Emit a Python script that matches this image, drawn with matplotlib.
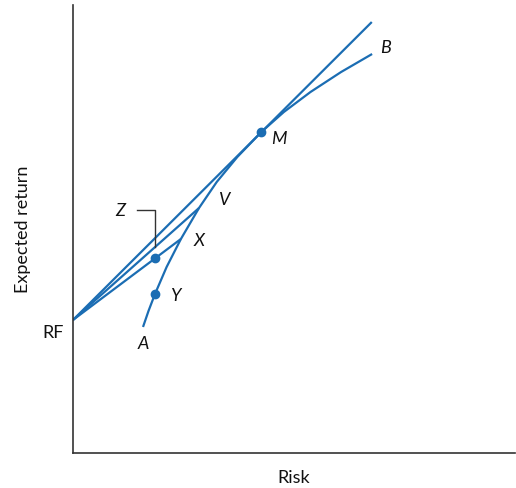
import matplotlib
matplotlib.use("Agg")
import matplotlib.pyplot as plt

plt.rcParams["font.family"] = ["Lato", "DejaVu Sans"]

BLUE = "#1b6db3"

# efficient frontier (risk, expected return)
frontier_risk = [1.584, 1.708, 1.855, 2.118, 2.441, 2.851, 3.251, 3.717,
                 4.260, 4.771, 5.373, 6.065, 6.767]
frontier_ret = [2.813, 3.170, 3.549, 4.152, 4.777, 5.469, 6.049, 6.607,
                7.165, 7.612, 8.058, 8.504, 8.906]

rf = (0.0, 2.97)
pt_x = (2.441, 4.777)
pt_v = (2.851, 5.469)
pt_m = (4.26, 7.165)
pt_y = (1.855, 3.549)
pt_z = (1.86, 4.35)
cml_end = (6.76, 9.62)

labels = {
    "A": (1.58, 2.43),
    "Y": (2.31, 3.50),
    "X": (2.85, 4.73),
    "V": (3.42, 5.65),
    "M": (4.66, 7.01),
    "B": (7.08, 9.04),
    "Z": (1.06, 5.40),
}

fig = plt.figure(figsize=(5.16, 4.88), dpi=100)
ax = fig.add_axes([73 / 516, 35 / 488, 442 / 516, 448 / 488])
ax.set_xlim(0, 10)
ax.set_ylim(0, 10)

ax.plot(frontier_risk, frontier_ret, color=BLUE, lw=1.6, solid_capstyle="butt",
        solid_joinstyle="round")
for end in (pt_x, pt_v, cml_end):
    ax.plot([rf[0], end[0]], [rf[1], end[1]], color=BLUE, lw=1.6, solid_capstyle="butt")

for p in (pt_y, pt_z, pt_m):
    ax.plot(*p, "o", color=BLUE, ms=6, zorder=5)

# bracket pointing at Z
ax.plot([1.45, pt_z[0], pt_z[0]], [5.42, 5.42, 4.60], color="#333333", lw=1.0)

for name, (lx, ly) in labels.items():
    ax.text(lx, ly, name, fontsize=13, style="italic", ha="center", va="center", color="#111111")

ax.text(-0.2, 2.68, "RF", fontsize=13, ha="right", va="center", color="#111111", clip_on=False)

ax.set_xticks([])
ax.set_yticks([])
for side in ("top", "right"):
    ax.spines[side].set_visible(False)
for side in ("left", "bottom"):
    ax.spines[side].set_color("#333333")
    ax.spines[side].set_linewidth(1.2)

ax.set_xlabel("Risk", fontsize=13, labelpad=12, color="#111111")
ax.set_ylabel("Expected return", fontsize=13, labelpad=30, color="#111111")

fig.savefig("out.png", dpi=100)
